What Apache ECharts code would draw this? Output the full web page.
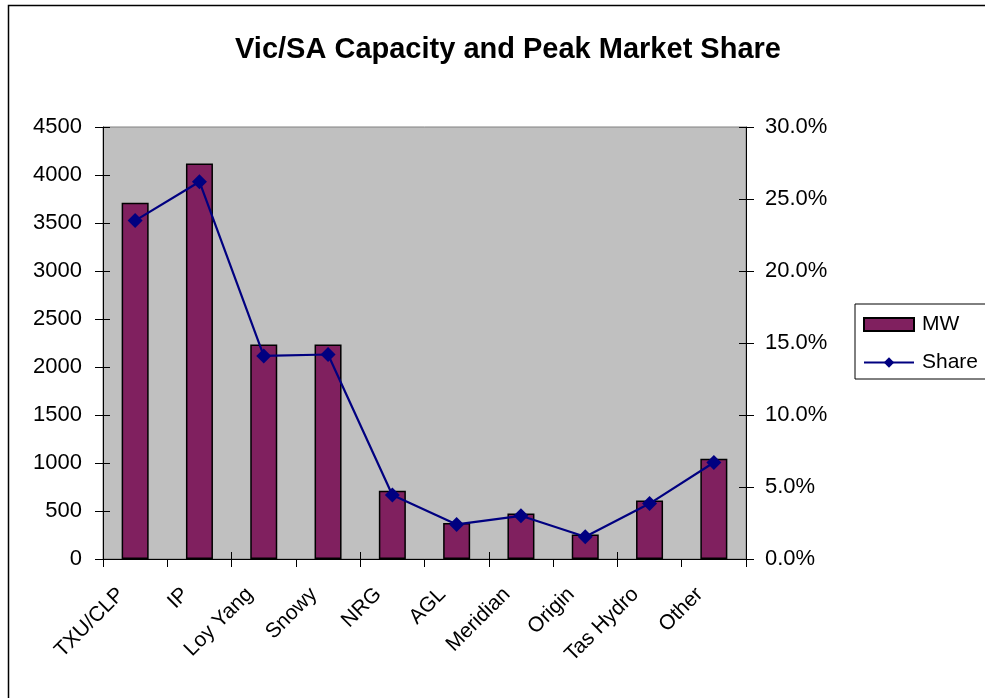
<!DOCTYPE html>
<html>
<head>
<meta charset="utf-8">
<title>Vic/SA Capacity and Peak Market Share</title>
<script src="https://cdn.jsdelivr.net/npm/echarts@6/dist/echarts.min.js"></script>
<style>
    html, body { margin: 0; padding: 0; background: #fff; }
    #chart { width: 985px; height: 698px; }
</style>
</head>
<body>
<div id="chart"></div>
<script>
    const categories = ['TXU/CLP', 'IP', 'Loy Yang', 'Snowy', 'NRG', 'AGL', 'Meridian', 'Origin', 'Tas Hydro', 'Other']
    const mwData = [3710, 4120, 2235, 2235, 710, 375, 475, 255, 610, 1045]
    const shareData = [23.5, 26.2, 14.1, 14.2, 4.45, 2.4, 3.0, 1.55, 3.85, 6.7]

    const font = 'Liberation Sans, Arial, sans-serif'
    const myChart = echarts.init(document.getElementById('chart'))

    // ticks cross the axis line in the original, so extra axes draw the inner half
    const innerTick = { show: true, inside: true, length: 7, lineStyle: { color: '#000', width: 1 } }

    const option = {
        backgroundColor: '#fff',
        animation: false,
        title: {
            text: 'Vic/SA Capacity and Peak Market Share',
            left: 503,
            top: 30,
            textAlign: 'center',
            textStyle: { fontFamily: font, fontSize: 29, fontWeight: 'bold', color: '#000' }
        },
        legend: {
            orient: 'vertical',
            left: 855,
            top: 304,
            padding: [10, 20, 6, 8],
            itemGap: 17,
            itemWidth: 50,
            itemHeight: 13,
            borderColor: '#000',
            borderWidth: 1,
            backgroundColor: '#fff',
            textStyle: { fontFamily: font, fontSize: 21, color: '#000', padding: [0, 0, 0, 3] },
            data: [{ name: 'MW', icon: 'rect' }, { name: 'Share' }]
        },
        graphic: [{
            type: 'rect',
            shape: { x: 8.5, y: 5.5, width: 1000, height: 720 },
            style: { fill: 'none', stroke: '#000', lineWidth: 1.5 },
            silent: true,
            z: -1
        }],
        grid: {
            left: 103,
            right: 239,
            top: 127,
            bottom: 139,
            show: true,
            backgroundColor: '#c0c0c0',
            borderColor: '#808080',
            borderWidth: 1
        },
        xAxis: [{
            type: 'category',
            data: categories,
            boundaryGap: true,
            axisLine: { show: true, lineStyle: { color: '#000', width: 1 } },
            axisTick: { show: true, length: 8, lineStyle: { color: '#000' } },
            axisLabel: {
                rotate: 45,
                margin: 18,
                padding: [0, 20, 0, 0],
                fontFamily: font,
                fontSize: 21,
                color: '#000'
            }
        }, {
            type: 'category',
            data: categories,
            position: 'bottom',
            axisLine: { show: false },
            axisTick: innerTick,
            axisLabel: { show: false }
        }],
        yAxis: [{
            type: 'value',
            min: 0,
            max: 4500,
            interval: 500,
            position: 'left',
            axisLine: { show: true, lineStyle: { color: '#000', width: 1 } },
            axisTick: { show: true, length: 8, lineStyle: { color: '#000' } },
            axisLabel: { margin: 21, fontFamily: font, fontSize: 22, color: '#000', formatter: v => String(v) },
            splitLine: { show: false }
        }, {
            type: 'value',
            min: 0,
            max: 30,
            interval: 5,
            position: 'right',
            axisLine: { show: true, lineStyle: { color: '#000', width: 1 } },
            axisTick: { show: true, length: 8, lineStyle: { color: '#000' } },
            axisLabel: {
                margin: 19,
                fontFamily: font,
                fontSize: 22,
                color: '#000',
                formatter: v => v.toFixed(1) + '%'
            },
            splitLine: { show: false }
        }, {
            type: 'value',
            min: 0,
            max: 4500,
            interval: 500,
            position: 'left',
            axisLine: { show: false },
            axisTick: innerTick,
            axisLabel: { show: false },
            splitLine: { show: false }
        }, {
            type: 'value',
            min: 0,
            max: 30,
            interval: 5,
            position: 'right',
            axisLine: { show: false },
            axisTick: innerTick,
            axisLabel: { show: false },
            splitLine: { show: false }
        }],
        series: [
            {
                name: 'MW',
                type: 'bar',
                data: mwData,
                barWidth: '42%',
                itemStyle: { color: '#80205f', borderColor: '#000', borderWidth: 1.5 }
            },
            {
                name: 'Share',
                type: 'line',
                yAxisIndex: 1,
                data: shareData,
                symbol: 'diamond',
                symbolSize: 15,
                itemStyle: { color: '#000080' },
                lineStyle: { color: '#000080', width: 2.2 }
            }
        ]
    }

    myChart.setOption(option)
</script>
</body>
</html>
